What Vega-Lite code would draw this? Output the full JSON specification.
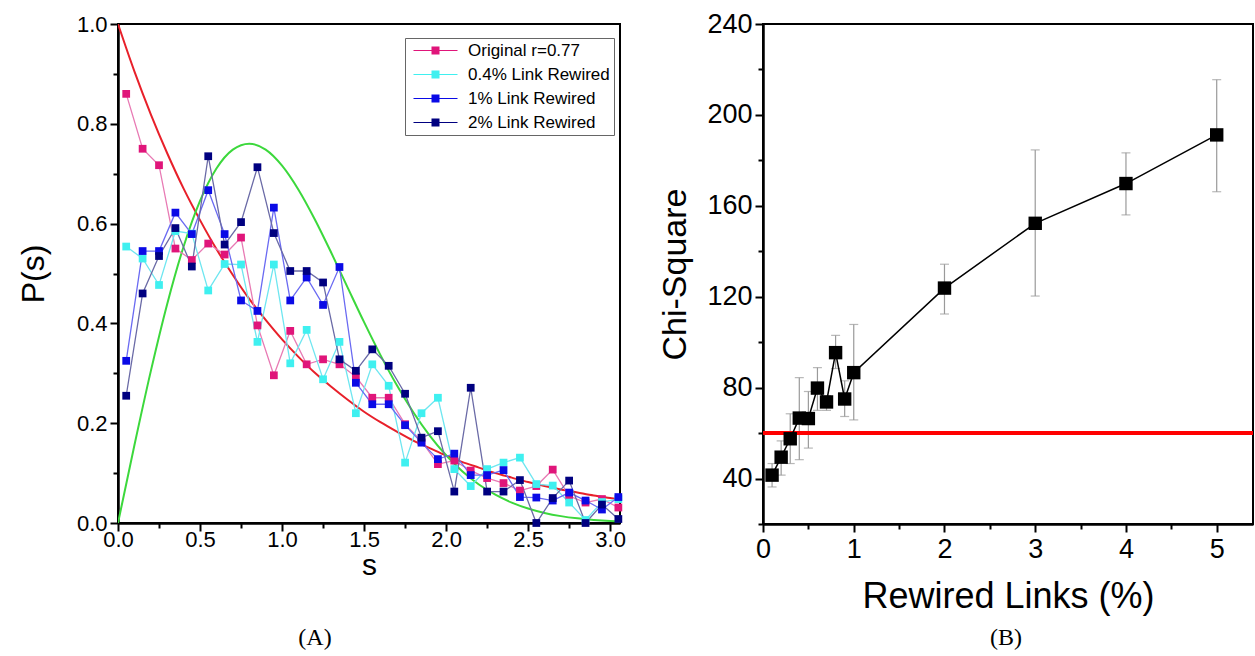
{
  "$schema": "https://vega.github.io/schema/vega-lite/v6.json",
  "padding": {"left": 16, "top": 9, "right": 0, "bottom": 0},
  "background": "white",
  "config": {
    "font": "Liberation Sans",
    "view": {"stroke": "black", "strokeWidth": 2},
    "axis": {"domainColor": "black", "domainWidth": 2.5, "tickColor": "black", "tickWidth": 2, "labelColor": "black", "titleColor": "black", "grid": false, "labelFont": "Liberation Sans", "titleFont": "Liberation Sans", "titleFontWeight": "normal", "labelPadding": 3, "labelFlush": false, "labelOverlap": false},
    "title": {"font": "Liberation Serif", "fontSize": 24, "fontWeight": "normal", "color": "black"},
    "concat": {"spacing": 30}
  },
  "datasets": {
    "curves": [
      {"s": 0, "poisson": 1.0, "wigner": 0},
      {"s": 0.1, "poisson": 0.905, "wigner": 0.1559},
      {"s": 0.2, "poisson": 0.819, "wigner": 0.3044},
      {"s": 0.3, "poisson": 0.741, "wigner": 0.4391},
      {"s": 0.4, "poisson": 0.670, "wigner": 0.5541},
      {"s": 0.5, "poisson": 0.607, "wigner": 0.6454},
      {"s": 0.6, "poisson": 0.549, "wigner": 0.7104},
      {"s": 0.7, "poisson": 0.497, "wigner": 0.7483},
      {"s": 0.8, "poisson": 0.449, "wigner": 0.7602},
      {"s": 0.9, "poisson": 0.407, "wigner": 0.7483},
      {"s": 1.0, "poisson": 0.368, "wigner": 0.7162},
      {"s": 1.1, "poisson": 0.333, "wigner": 0.668},
      {"s": 1.2, "poisson": 0.301, "wigner": 0.6083},
      {"s": 1.3, "poisson": 0.273, "wigner": 0.5416},
      {"s": 1.4, "poisson": 0.247, "wigner": 0.4718},
      {"s": 1.5, "poisson": 0.223, "wigner": 0.4025},
      {"s": 1.6, "poisson": 0.202, "wigner": 0.3365},
      {"s": 1.7, "poisson": 0.183, "wigner": 0.2759},
      {"s": 1.8, "poisson": 0.165, "wigner": 0.222},
      {"s": 1.9, "poisson": 0.150, "wigner": 0.1752},
      {"s": 2.0, "poisson": 0.135, "wigner": 0.1358},
      {"s": 2.1, "poisson": 0.122, "wigner": 0.1033},
      {"s": 2.2, "poisson": 0.111, "wigner": 0.0772},
      {"s": 2.3, "poisson": 0.100, "wigner": 0.0567},
      {"s": 2.4, "poisson": 0.091, "wigner": 0.0409},
      {"s": 2.5, "poisson": 0.082, "wigner": 0.029},
      {"s": 2.6, "poisson": 0.074, "wigner": 0.0202},
      {"s": 2.7, "poisson": 0.067, "wigner": 0.0138},
      {"s": 2.8, "poisson": 0.061, "wigner": 0.0093},
      {"s": 2.9, "poisson": 0.055, "wigner": 0.0062},
      {"s": 3.0, "poisson": 0.050, "wigner": 0.004},
      {"s": 3.06, "poisson": 0.047, "wigner": 0.0031}
    ],
    "spacing": [
      {"series": "Original r=0.77", "s": 0.05, "p": 0.860},
      {"series": "Original r=0.77", "s": 0.15, "p": 0.750},
      {"series": "Original r=0.77", "s": 0.25, "p": 0.717},
      {"series": "Original r=0.77", "s": 0.35, "p": 0.550},
      {"series": "Original r=0.77", "s": 0.45, "p": 0.527},
      {"series": "Original r=0.77", "s": 0.55, "p": 0.560},
      {"series": "Original r=0.77", "s": 0.65, "p": 0.538},
      {"series": "Original r=0.77", "s": 0.75, "p": 0.572},
      {"series": "Original r=0.77", "s": 0.85, "p": 0.396},
      {"series": "Original r=0.77", "s": 0.95, "p": 0.296},
      {"series": "Original r=0.77", "s": 1.05, "p": 0.385},
      {"series": "Original r=0.77", "s": 1.15, "p": 0.318},
      {"series": "Original r=0.77", "s": 1.25, "p": 0.328},
      {"series": "Original r=0.77", "s": 1.35, "p": 0.318},
      {"series": "Original r=0.77", "s": 1.45, "p": 0.293},
      {"series": "Original r=0.77", "s": 1.55, "p": 0.251},
      {"series": "Original r=0.77", "s": 1.65, "p": 0.251},
      {"series": "Original r=0.77", "s": 1.75, "p": 0.198},
      {"series": "Original r=0.77", "s": 1.85, "p": 0.164},
      {"series": "Original r=0.77", "s": 1.95, "p": 0.118},
      {"series": "Original r=0.77", "s": 2.05, "p": 0.125},
      {"series": "Original r=0.77", "s": 2.15, "p": 0.105},
      {"series": "Original r=0.77", "s": 2.25, "p": 0.090},
      {"series": "Original r=0.77", "s": 2.35, "p": 0.080},
      {"series": "Original r=0.77", "s": 2.45, "p": 0.065},
      {"series": "Original r=0.77", "s": 2.55, "p": 0.074},
      {"series": "Original r=0.77", "s": 2.65, "p": 0.107},
      {"series": "Original r=0.77", "s": 2.75, "p": 0.054},
      {"series": "Original r=0.77", "s": 2.85, "p": 0.041},
      {"series": "Original r=0.77", "s": 2.95, "p": 0.048},
      {"series": "Original r=0.77", "s": 3.05, "p": 0.031},
      {"series": "0.4% Link Rewired", "s": 0.05, "p": 0.554},
      {"series": "0.4% Link Rewired", "s": 0.15, "p": 0.530},
      {"series": "0.4% Link Rewired", "s": 0.25, "p": 0.477},
      {"series": "0.4% Link Rewired", "s": 0.35, "p": 0.585},
      {"series": "0.4% Link Rewired", "s": 0.45, "p": 0.580},
      {"series": "0.4% Link Rewired", "s": 0.55, "p": 0.466},
      {"series": "0.4% Link Rewired", "s": 0.65, "p": 0.519},
      {"series": "0.4% Link Rewired", "s": 0.75, "p": 0.518},
      {"series": "0.4% Link Rewired", "s": 0.85, "p": 0.363},
      {"series": "0.4% Link Rewired", "s": 0.95, "p": 0.518},
      {"series": "0.4% Link Rewired", "s": 1.05, "p": 0.320},
      {"series": "0.4% Link Rewired", "s": 1.15, "p": 0.387},
      {"series": "0.4% Link Rewired", "s": 1.25, "p": 0.288},
      {"series": "0.4% Link Rewired", "s": 1.35, "p": 0.363},
      {"series": "0.4% Link Rewired", "s": 1.45, "p": 0.220},
      {"series": "0.4% Link Rewired", "s": 1.55, "p": 0.318},
      {"series": "0.4% Link Rewired", "s": 1.65, "p": 0.275},
      {"series": "0.4% Link Rewired", "s": 1.75, "p": 0.121},
      {"series": "0.4% Link Rewired", "s": 1.85, "p": 0.220},
      {"series": "0.4% Link Rewired", "s": 1.95, "p": 0.251},
      {"series": "0.4% Link Rewired", "s": 2.05, "p": 0.108},
      {"series": "0.4% Link Rewired", "s": 2.15, "p": 0.074},
      {"series": "0.4% Link Rewired", "s": 2.25, "p": 0.108},
      {"series": "0.4% Link Rewired", "s": 2.35, "p": 0.121},
      {"series": "0.4% Link Rewired", "s": 2.45, "p": 0.131},
      {"series": "0.4% Link Rewired", "s": 2.55, "p": 0.078},
      {"series": "0.4% Link Rewired", "s": 2.65, "p": 0.075},
      {"series": "0.4% Link Rewired", "s": 2.75, "p": 0.041},
      {"series": "0.4% Link Rewired", "s": 2.85, "p": 0.006},
      {"series": "0.4% Link Rewired", "s": 2.95, "p": 0.042},
      {"series": "0.4% Link Rewired", "s": 3.05, "p": 0.048},
      {"series": "1% Link Rewired", "s": 0.05, "p": 0.325},
      {"series": "1% Link Rewired", "s": 0.15, "p": 0.545},
      {"series": "1% Link Rewired", "s": 0.25, "p": 0.545},
      {"series": "1% Link Rewired", "s": 0.35, "p": 0.622},
      {"series": "1% Link Rewired", "s": 0.45, "p": 0.579},
      {"series": "1% Link Rewired", "s": 0.55, "p": 0.667},
      {"series": "1% Link Rewired", "s": 0.65, "p": 0.579},
      {"series": "1% Link Rewired", "s": 0.75, "p": 0.446},
      {"series": "1% Link Rewired", "s": 0.85, "p": 0.425},
      {"series": "1% Link Rewired", "s": 0.95, "p": 0.632},
      {"series": "1% Link Rewired", "s": 1.05, "p": 0.446},
      {"series": "1% Link Rewired", "s": 1.15, "p": 0.492},
      {"series": "1% Link Rewired", "s": 1.25, "p": 0.437},
      {"series": "1% Link Rewired", "s": 1.35, "p": 0.513},
      {"series": "1% Link Rewired", "s": 1.45, "p": 0.281},
      {"series": "1% Link Rewired", "s": 1.55, "p": 0.238},
      {"series": "1% Link Rewired", "s": 1.65, "p": 0.238},
      {"series": "1% Link Rewired", "s": 1.75, "p": 0.196},
      {"series": "1% Link Rewired", "s": 1.85, "p": 0.161},
      {"series": "1% Link Rewired", "s": 1.95, "p": 0.128},
      {"series": "1% Link Rewired", "s": 2.05, "p": 0.139},
      {"series": "1% Link Rewired", "s": 2.15, "p": 0.096},
      {"series": "1% Link Rewired", "s": 2.25, "p": 0.096},
      {"series": "1% Link Rewired", "s": 2.35, "p": 0.106},
      {"series": "1% Link Rewired", "s": 2.45, "p": 0.052},
      {"series": "1% Link Rewired", "s": 2.55, "p": 0.051},
      {"series": "1% Link Rewired", "s": 2.65, "p": 0.045},
      {"series": "1% Link Rewired", "s": 2.75, "p": 0.061},
      {"series": "1% Link Rewired", "s": 2.85, "p": 0.045},
      {"series": "1% Link Rewired", "s": 2.95, "p": 0.027},
      {"series": "1% Link Rewired", "s": 3.05, "p": 0.052},
      {"series": "2% Link Rewired", "s": 0.05, "p": 0.255},
      {"series": "2% Link Rewired", "s": 0.15, "p": 0.460},
      {"series": "2% Link Rewired", "s": 0.25, "p": 0.535},
      {"series": "2% Link Rewired", "s": 0.35, "p": 0.591},
      {"series": "2% Link Rewired", "s": 0.45, "p": 0.514},
      {"series": "2% Link Rewired", "s": 0.55, "p": 0.735},
      {"series": "2% Link Rewired", "s": 0.65, "p": 0.558},
      {"series": "2% Link Rewired", "s": 0.75, "p": 0.603},
      {"series": "2% Link Rewired", "s": 0.85, "p": 0.713},
      {"series": "2% Link Rewired", "s": 0.95, "p": 0.581},
      {"series": "2% Link Rewired", "s": 1.05, "p": 0.505},
      {"series": "2% Link Rewired", "s": 1.15, "p": 0.505},
      {"series": "2% Link Rewired", "s": 1.25, "p": 0.482},
      {"series": "2% Link Rewired", "s": 1.35, "p": 0.328},
      {"series": "2% Link Rewired", "s": 1.45, "p": 0.305},
      {"series": "2% Link Rewired", "s": 1.55, "p": 0.348},
      {"series": "2% Link Rewired", "s": 1.65, "p": 0.315},
      {"series": "2% Link Rewired", "s": 1.75, "p": 0.259},
      {"series": "2% Link Rewired", "s": 1.85, "p": 0.171},
      {"series": "2% Link Rewired", "s": 1.95, "p": 0.184},
      {"series": "2% Link Rewired", "s": 2.05, "p": 0.063},
      {"series": "2% Link Rewired", "s": 2.15, "p": 0.271},
      {"series": "2% Link Rewired", "s": 2.25, "p": 0.063},
      {"series": "2% Link Rewired", "s": 2.35, "p": 0.063},
      {"series": "2% Link Rewired", "s": 2.45, "p": 0.086},
      {"series": "2% Link Rewired", "s": 2.55, "p": 0.000},
      {"series": "2% Link Rewired", "s": 2.65, "p": 0.050},
      {"series": "2% Link Rewired", "s": 2.75, "p": 0.085},
      {"series": "2% Link Rewired", "s": 2.85, "p": 0.000},
      {"series": "2% Link Rewired", "s": 2.95, "p": 0.037},
      {"series": "2% Link Rewired", "s": 3.05, "p": 0.008}
    ],
    "chi": [
      {"x": 0.1, "chi": 41.5, "lo": 36.3, "hi": 46.6},
      {"x": 0.2, "chi": 49.4, "lo": 41.5, "hi": 56.6},
      {"x": 0.3, "chi": 57.5, "lo": 46.6, "hi": 68.5},
      {"x": 0.4, "chi": 66.6, "lo": 48.3, "hi": 84.4},
      {"x": 0.5, "chi": 66.4, "lo": 53.4, "hi": 78.3},
      {"x": 0.6, "chi": 79.8, "lo": 70.0, "hi": 88.8},
      {"x": 0.7, "chi": 73.7, "lo": 70.0, "hi": 76.5},
      {"x": 0.8, "chi": 95.4, "lo": 88.4, "hi": 103.0},
      {"x": 0.9, "chi": 75.0, "lo": 67.3, "hi": 83.0},
      {"x": 1.0, "chi": 86.6, "lo": 65.8, "hi": 107.8},
      {"x": 2.0, "chi": 123.8, "lo": 112.4, "hi": 134.3},
      {"x": 3.0, "chi": 152.3, "lo": 120.3, "hi": 184.6},
      {"x": 4.0, "chi": 169.8, "lo": 156.0, "hi": 183.3},
      {"x": 5.0, "chi": 191.2, "lo": 166.2, "hi": 215.5}
    ]
  },
  "hconcat": [
    {
      "width": 502,
      "height": 499,
      "title": {"text": "(A)", "orient": "bottom", "offset": 46, "dx": -54},
      "layer": [
        {
          "data": {"name": "curves"},
          "mark": {"type": "line", "color": "#e8202a", "strokeWidth": 2, "interpolate": "monotone", "clip": true},
          "encoding": {
            "x": {"field": "s", "type": "quantitative", "title": "s", "scale": {"domain": [0, 3.06], "nice": false},
              "axis": {"values": [0, 0.25, 0.5, 0.75, 1, 1.25, 1.5, 1.75, 2, 2.25, 2.5, 2.75, 3],
                "labelExpr": "round(datum.value*4) % 2 === 0 ? format(datum.value, '.1f') : ''",
                "tickSize": {"condition": {"test": "round(datum.value*4) % 2 === 0", "value": 8}, "value": 5},
                "labelFontSize": 22, "titleFontSize": 30, "titlePadding": 0, "labelPadding": -2}},
            "y": {"field": "poisson", "type": "quantitative", "title": "P(s)", "scale": {"domain": [0, 1], "nice": false},
              "axis": {"values": [0, 0.1, 0.2, 0.3, 0.4, 0.5, 0.6, 0.7, 0.8, 0.9, 1.0],
                "labelExpr": "round(datum.value*10) % 2 === 0 ? format(datum.value, '.1f') : ''",
                "tickSize": {"condition": {"test": "round(datum.value*10) % 2 === 0", "value": 8}, "value": 5},
                "labelFontSize": 22, "titleFontSize": 32, "titlePadding": 26}}
          }
        },
        {
          "data": {"name": "curves"},
          "mark": {"type": "line", "color": "#3cd83c", "strokeWidth": 2, "interpolate": "monotone", "clip": true},
          "encoding": {
            "x": {"field": "s", "type": "quantitative", "title": "s"},
            "y": {"field": "wigner", "type": "quantitative", "title": "P(s)"}
          }
        },
        {
          "data": {"name": "spacing"},
          "mark": {"type": "line", "strokeWidth": 1.3},
          "encoding": {
            "x": {"field": "s", "type": "quantitative", "title": "s"},
            "y": {"field": "p", "type": "quantitative", "title": "P(s)"},
            "detail": {"field": "series", "type": "nominal"},
            "stroke": {"condition": [
                {"test": "datum.series === 'Original r=0.77'", "value": "#e87ab4"},
                {"test": "datum.series === '0.4% Link Rewired'", "value": "#6ee6f0"},
                {"test": "datum.series === '1% Link Rewired'", "value": "#6a6af2"}
              ], "value": "#6a6aa6"}
          }
        },
        {
          "data": {"name": "spacing"},
          "mark": {"type": "square", "size": 60, "filled": true, "opacity": 1},
          "encoding": {
            "x": {"field": "s", "type": "quantitative", "title": "s"},
            "y": {"field": "p", "type": "quantitative", "title": "P(s)"},
            "color": {"field": "series", "type": "nominal",
              "scale": {"domain": ["Original r=0.77", "0.4% Link Rewired", "1% Link Rewired", "2% Link Rewired"], "range": ["#e0157a", "#3ff0f0", "#0a0ae6", "#000080"]},
              "legend": {"title": null, "orient": "none", "legendX": 287, "legendY": 14, "strokeColor": "#666", "fillColor": "white", "padding": 4, "labelFontSize": 17, "labelFont": "Liberation Sans", "labelColor": "black", "rowPadding": 6, "labelOffset": 42,
                "symbolType": "M-1,-0.15H10V0.15H-1Z M3.5,-1H5.5V1H3.5Z", "symbolSize": 64}}
          }
        }
      ]
    },
    {
      "width": 490,
      "height": 500,
      "title": {"text": "(B)", "orient": "bottom", "offset": 12, "dx": -2},
      "data": {"name": "chi"},
      "layer": [
        {
          "mark": {"type": "errorbar", "color": "#9a9a9a", "ticks": true, "size": 9, "thickness": 1.2},
          "encoding": {
            "x": {"field": "x", "type": "quantitative", "title": "Rewired Links (%)", "scale": {"domain": [0, 5.4], "nice": false},
              "axis": {"values": [0, 0.5, 1, 1.5, 2, 2.5, 3, 3.5, 4, 4.5, 5],
                "labelExpr": "round(datum.value*2) % 2 === 0 ? format(datum.value, 'd') : ''",
                "tickSize": {"condition": {"test": "round(datum.value*2) % 2 === 0", "value": 8}, "value": 5},
                "labelFontSize": 27, "titleFontSize": 36, "titlePadding": 17, "labelPadding": 4}},
            "y": {"field": "lo", "type": "quantitative", "title": "Chi-Square", "scale": {"domain": [20, 240], "nice": false},
              "axis": {"values": [20, 40, 60, 80, 100, 120, 140, 160, 180, 200, 220, 240],
                "labelExpr": "datum.value % 40 === 0 ? format(datum.value, 'd') : ''",
                "tickSize": {"condition": {"test": "datum.value % 40 === 0", "value": 8}, "value": 5},
                "labelFontSize": 27, "titleFontSize": 34, "titlePadding": 14}},
            "y2": {"field": "hi"}
          }
        },
        {
          "mark": {"type": "rule", "color": "#ff0000", "strokeWidth": 3},
          "encoding": {"y": {"datum": 60}}
        },
        {
          "mark": {"type": "line", "color": "black", "strokeWidth": 1.5},
          "encoding": {
            "x": {"field": "x", "type": "quantitative", "title": "Rewired Links (%)"},
            "y": {"field": "chi", "type": "quantitative", "title": "Chi-Square"}
          }
        },
        {
          "mark": {"type": "point", "shape": "square", "size": 180, "filled": true, "color": "black", "opacity": 1},
          "encoding": {
            "x": {"field": "x", "type": "quantitative", "title": "Rewired Links (%)"},
            "y": {"field": "chi", "type": "quantitative", "title": "Chi-Square"}
          }
        }
      ]
    }
  ]
}
